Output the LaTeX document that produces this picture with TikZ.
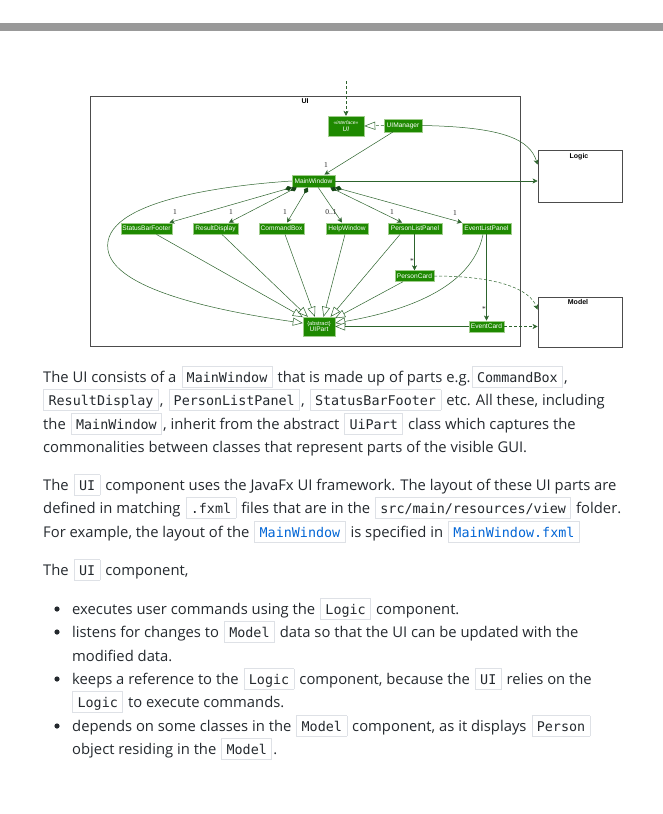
\documentclass[tikz,border=0pt]{standalone}
\usepackage{fontspec}
\setmainfont{Open Sans}
\newfontfamily\umlfont{Liberation Sans}
\newfontfamily\numfont{Liberation Serif}
\newfontfamily\monofont{DejaVu Sans Mono}
\usetikzlibrary{arrows.meta,calc}
\definecolor{nfill}{RGB}{30,137,0}
\definecolor{nbord}{RGB}{160,205,140}
\definecolor{lgreen}{RGB}{45,100,45}
\definecolor{dgreen}{RGB}{20,70,20}
\definecolor{txtc}{RGB}{36,41,46}
\definecolor{cdbd}{RGB}{222,225,230}
\definecolor{cdbg}{RGB}{255,255,255}
\definecolor{linkc}{RGB}{3,102,214}
\newcommand\cd[1]{\kern1.2pt\relax{\setlength\fboxsep{0pt}\setlength\fboxrule{0.7pt}\fcolorbox{cdbd}{cdbg}{\rule[-5pt]{0pt}{20pt}\kern4.5pt\relax{\monofont\fontsize{13.4}{16}\selectfont #1}\kern4.5pt\relax}}\kern1.2pt\relax}
\newcommand\cdl[1]{\cd{\color{linkc}#1}}
\begin{document}
\begin{tikzpicture}[x=1pt,y=-1pt,
  cls/.style={draw=nbord, line width=0.4pt, fill=nfill, text=white, font=\umlfont\fontsize{6.6}{7}\selectfont, inner sep=0pt, minimum height=12pt},
  asc/.style={draw=lgreen, line width=0.5pt, -{Stealth[length=5pt,width=5pt,inset=1.5pt]}},
  comp/.style={draw=lgreen, line width=0.5pt, {Diamond[length=7pt,width=5pt,fill=dgreen,color=dgreen]}-{Stealth[length=5pt,width=5pt,inset=1.5pt]}},
  gen/.style={draw=lgreen, line width=0.5pt, -{Triangle[open,length=10pt,width=8pt,fill=white]}},
  dep/.style={asc, dash pattern=on 3pt off 2pt},
  mult/.style={font=\numfont\fontsize{7.5}{8}\selectfont, text=black!85, inner sep=0pt},
  pkgtitle/.style={font=\umlfont\bfseries\fontsize{7}{8}\selectfont, inner sep=0pt},
  txt/.style={anchor=base west, inner sep=0pt, font=\fontsize{14.8}{18}\selectfont, text=txtc},
  pkg/.style={draw=black!70, line width=0.9pt, fill=white, inner sep=0pt},
  ]
\useasboundingbox (0,0) rectangle (663,814);
\fill[black!40] (0,23) rectangle (663,31);

% packages
\node[pkg, minimum width=430pt, minimum height=250pt] (uipkg) at (305,221) {};
\node[pkgtitle] (uititle) at (305,101) {UI};
\node[pkg, minimum width=84pt, minimum height=52pt] (logic) at (580,176) {};
\node[pkgtitle] (logictitle) at (579,157) {Logic};
\node[pkg, minimum width=84pt, minimum height=50pt] (model) at (580,322) {};
\node[pkgtitle] (modeltitle) at (578,302) {Model};

% classes
\node[cls, minimum width=36pt, minimum height=20pt, align=center] (iface) at (346,126) {{\itshape\fontsize{5}{5.5}\selectfont «interface»}\\[-0.5pt]{\itshape UI}};
\node[cls, minimum width=38pt, minimum height=12.5pt] (uimgr) at (403,125.5) {UIManager};
\node[cls, minimum width=43pt, minimum height=12.5pt] (mw) at (313.5,181) {MainWindow};
\node[cls, minimum width=51.5pt, minimum height=11.5pt] (sbf) at (146.5,228.5) {StatusBarFooter};
\node[cls, minimum width=44.5pt, minimum height=11.5pt] (rd) at (215.5,228.5) {ResultDisplay};
\node[cls, minimum width=45pt, minimum height=11.5pt] (cb) at (281.5,228.5) {CommandBox};
\node[cls, minimum width=41.5pt, minimum height=11.5pt] (hw) at (347,228.5) {HelpWindow};
\node[cls, minimum width=53.5pt, minimum height=11.5pt] (plp) at (415,228.5) {PersonListPanel};
\node[cls, minimum width=48.5pt, minimum height=11.5pt] (elp) at (486.5,228.5) {EventListPanel};
\node[cls, minimum width=39pt, minimum height=11pt] (pc) at (414.5,276) {PersonCard};
\node[cls, minimum width=35pt, minimum height=11.5pt] (ec) at (486.5,326.5) {EventCard};
\node[cls, minimum width=32pt, minimum height=19pt, align=center] (uip) at (319,326.5) {{\fontsize{5.5}{6}\selectfont\{abstract\}}\\[-0.5pt]UIPart};

% connectors
\coordinate (topin) at (346,81);
\draw[dep] (topin) -- (iface.north);
\draw[draw=lgreen, line width=0.5pt, dash pattern=on 3pt off 2pt, -{Triangle[open,length=11pt,width=8pt,fill=white]}] (uimgr.west) -- (iface.east);
\draw[asc] (uimgr.east) .. controls (505,127) and (530,140) .. ($(logic.north west)+(0,15)$);
\draw[asc] ($(uimgr.south)+(-10,0)$) -- ($(mw.north)+(11,0)$);
\draw[asc] (mw.east) -- (mw.east -| logic.west);

\draw[comp] (mw.south west) -- ($(sbf.north east)+(-3,0)$);
\draw[comp] (mw.-159) -- ($(rd.north east)+(-9,0)$);
\draw[comp] (mw.-131) -- ($(cb.north)+(5.5,0)$);
\draw[asc] (mw.-54) -- ($(hw.north)+(-5,0)$);
\draw[comp] (mw.-21) -- ($(plp.north)+(-13,0)$);
\draw[comp] (mw.south east) -- (elp.north west);

\draw[asc] (plp.south -| pc.north) -- (pc.north);
\draw[asc] (elp.south) -- (ec.north);

\draw[gen] (mw.west) .. controls (230,185) and (100,200) .. (108,250) .. controls (114,288) and (210,310) .. (uip.168);
\draw[gen] ($(sbf.south)+(10,0)$) -- (uip.150);
\draw[gen] ($(rd.south)+(6.5,0)$) -- (uip.139);
\draw[gen] ($(cb.south)+(3.5,0)$) -- (uip.113);
\draw[gen] ($(hw.south)+(-2,0)$) -- (uip.65);
\draw[gen] ($(plp.south)+(-15,0)$) -- (uip.40);
\draw[gen] ($(pc.south)+(-11.5,0)$) -- (uip.27);
\draw[gen] ($(elp.south)+(-3.5,0)$) .. controls (472,290) and (400,312) .. (uip.12);
\draw[gen] (ec.west) -- (uip.east);

\draw[dep] (pc.east) .. controls (500,276) and (530,290) .. ($(model.north west)+(0,13)$);
\draw[dep] (ec.east) -- (ec.east -| model.west);

% multiplicities
\node[mult] (m1) at (326,165) {1};
\node[mult] (m2) at (175,212) {1};
\node[mult] (m3) at (231,212) {1};
\node[mult] (m4) at (285,212) {1};
\node[mult] (m5) at (331,212) {0..1};
\node[mult] (m6) at (392,212) {1};
\node[mult] (m7) at (455,213) {1};
\node[mult] (m8) at (412,261) {*};
\node[mult] (m9) at (484,309) {*};

% text
\node[txt] (p1a) at (43,382) {The UI consists of a \cd{MainWindow} that is made up of parts e.g.\cd{CommandBox},};
\node[txt] (p1b) at (42,405) {\cd{ResultDisplay}, \cd{PersonListPanel}, \cd{StatusBarFooter} etc. All these, including};
\node[txt] (p1c) at (43,429) {the \cd{MainWindow}, inherit from the abstract \cd{UiPart} class which captures the};
\node[txt] (p1d) at (43,452) {commonalities between classes that represent parts of the visible GUI.};
\node[txt] (p2a) at (43,490) {The \cd{UI} component uses the JavaFx UI framework. The layout of these UI parts are};
\node[txt] (p2b) at (43,513) {defined in matching \cd{.fxml} files that are in the \cd{src/main/resources/view} folder.};
\node[txt] (p2c) at (43,537) {For example, the layout of the \cdl{MainWindow} is specified in \cdl{MainWindow.fxml}};
\node[txt] (p3) at (43,575) {The \cd{UI} component,};
\node[txt] (b1) at (72,614) {executes user commands using the \cd{Logic} component.};
\node[txt] (b2a) at (72,637) {listens for changes to \cd{Model} data so that the UI can be updated with the};
\node[txt] (b2b) at (72,661) {modified data.};
\node[txt] (b3a) at (72,684) {keeps a reference to the \cd{Logic} component, because the \cd{UI} relies on the};
\node[txt] (b3b) at (71,707) {\cd{Logic} to execute commands.};
\node[txt] (b4a) at (72,731) {depends on some classes in the \cd{Model} component, as it displays \cd{Person}};
\node[txt] (b4b) at (72,754) {object residing in the \cd{Model}.};
\foreach \yy in {609,632,679,726} \fill[txtc] (57,\yy) circle (2.6);
\end{tikzpicture}
\end{document}
